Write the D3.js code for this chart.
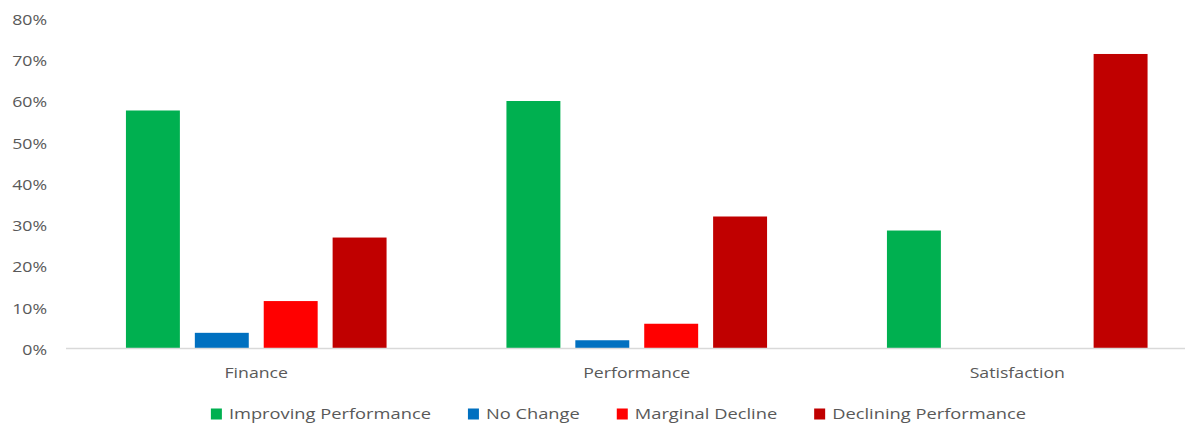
<!DOCTYPE html>
<html>
<head>
<meta charset="utf-8">
<script src="https://cdn.jsdelivr.net/npm/d3@7"></script>
<style>
  html, body { margin: 0; padding: 0; background: #fff; }
  svg { display: block; }
  text { font-family: "Open Sans", sans-serif; fill: #595959; }
</style>
</head>
<body>
<svg id="chart" width="1192" height="429"></svg>
<script>
// Survey outcomes by area (share of respondents)
const categories = ["Finance", "Performance", "Satisfaction"];
const seriesNames = ["Improving Performance", "No Change", "Marginal Decline", "Declining Performance"];
const improving = [0.577, 0.60, 0.286];
const noChange = [0.038, 0.02, 0];
const marginalDecline = [0.115, 0.06, 0];
const declining = [0.269, 0.32, 0.714];
const yTicks = [0, 0.1, 0.2, 0.3, 0.4, 0.5, 0.6, 0.7, 0.8];
const colors = ["#00B050", "#0070C0", "#FF0000", "#C00000"];

const seriesValues = [improving, noChange, marginalDecline, declining];

const svg = d3.select("#chart");
const textScale = 1.18;
const legendScale = 1.22;

// Scales
const x0 = d3.scaleBand().domain(categories).range([66, 1207.5]).padding(0);
const x1 = d3.scaleBand().domain(seriesNames)
  .range([0, x0.bandwidth()])
  .paddingInner(0.217)
  .paddingOuter(0.87);
const y = d3.scaleLinear().domain([0, 0.8]).range([348.5, 18.5]);

// Bars
const rows = categories.map((c, i) => ({
  category: c,
  values: seriesNames.map((s, j) => ({ series: s, value: seriesValues[j][i], color: colors[j] }))
}));

const groups = svg.append("g").selectAll("g")
  .data(rows).join("g")
  .attr("transform", d => `translate(${x0(d.category)},0)`);

groups.selectAll("rect")
  .data(d => d.values.filter(v => v.value > 0))
  .join("rect")
  .attr("x", d => x1(d.series))
  .attr("width", x1.bandwidth())
  .attr("y", d => y(d.value))
  .attr("height", d => y(0) - y(d.value))
  .attr("fill", d => d.color);

// Baseline
svg.append("line")
  .attr("x1", 66).attr("x2", 1185)
  .attr("y1", y(0)).attr("y2", y(0))
  .attr("stroke", "#D9D9D9").attr("stroke-width", 1.5);

// Y axis labels
const yAxis = d3.axisLeft(y).tickValues(yTicks).tickFormat(d3.format(".0%")).tickSize(0).tickPadding(0);
const yg = svg.append("g").attr("transform", "translate(47,0.5)").call(yAxis);
yg.select(".domain").remove();
yg.selectAll("text")
  .attr("x", null).attr("dy", "0.35em")
  .attr("transform", `scale(${textScale},1)`)
  .style("font-size", "15px").attr("fill", "#595959")
  .style("font-family", "'Open Sans', sans-serif");

// Category labels
const xAxis = d3.axisBottom(x0).tickSize(0).tickPadding(0);
const xg = svg.append("g").attr("transform", "translate(0,373)").call(xAxis);
xg.select(".domain").remove();
xg.selectAll("text")
  .attr("y", 0).attr("dy", "0.35em")
  .attr("transform", `scale(${textScale},1)`)
  .style("font-size", "15px").attr("fill", "#595959")
  .style("font-family", "'Open Sans', sans-serif");

// Legend
const legend = svg.append("g");
const legendY = 414;
const swatch = 11, textGap = 18, itemGap = 37;
const items = legend.selectAll("g").data(seriesNames.map((s, i) => ({ s, c: colors[i] }))).join("g");
items.append("rect")
  .attr("width", swatch).attr("height", swatch)
  .attr("y", legendY - swatch / 2)
  .attr("fill", d => d.c);
items.append("text")
  .attr("transform", `translate(${textGap},${legendY}) scale(${legendScale},1)`)
  .attr("dy", "0.35em")
  .style("font-size", "15px")
  .text(d => d.s);

let cursor = 0;
const offsets = [];
items.each(function () {
  const w = d3.select(this).select("text").node().getComputedTextLength() * legendScale;
  offsets.push(cursor);
  cursor += textGap + w + itemGap;
});
const total = cursor - itemGap;
const startX = 618.5 - total / 2;
items.attr("transform", (d, i) => `translate(${startX + offsets[i]},0)`);
</script>
</body>
</html>
